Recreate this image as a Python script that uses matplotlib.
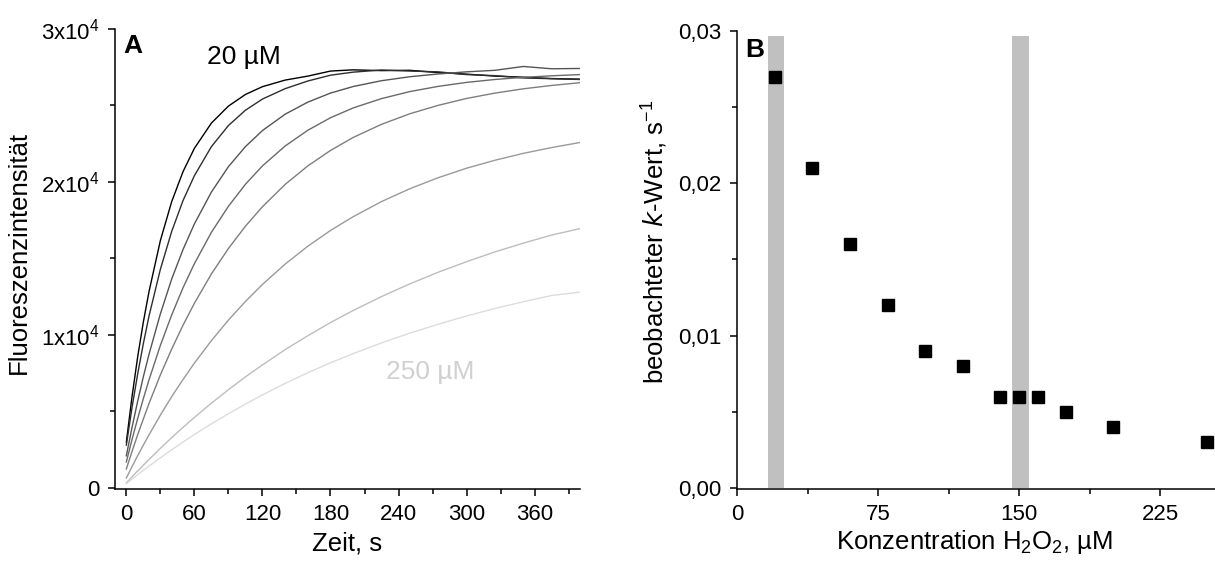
import matplotlib
matplotlib.use("Agg")
import matplotlib.pyplot as plt
import numpy as np

plt.rcParams['font.family'] = ['Liberation Sans', 'DejaVu Sans']
plt.rcParams['mathtext.default'] = 'regular'

# ---------------- Panel A data ----------------
time_s = [0, 5, 10, 15, 20, 30, 40, 50, 60, 75, 90, 105, 120, 140, 160, 180,
          200, 225, 250, 275, 300, 325, 350, 375, 400]

curve_20uM = [3000, 5960, 8570, 10850, 12840, 16170, 18720, 20680, 22200, 23850, 24960,
              25720, 26230, 26660, 26920, 27250, 27330, 27280, 27300, 27150, 27050,
              26920, 26850, 26760, 26720]
curve_40uM = [2800, 5260, 7450, 9440, 11240, 14290, 16770, 18790, 20410, 22310, 23690,
              24690, 25420, 26100, 26600, 26980, 27180, 27320, 27250, 27200, 27020,
              26950, 26800, 26750, 26700]
curve_60uM = [2100, 3950, 5670, 7270, 8740, 11380, 13660, 15590, 17260, 19340, 21000,
              22310, 23360, 24430, 25220, 25810, 26240, 26620, 26880, 27060, 27200,
              27300, 27550, 27400, 27420]
curve_80uM = [1700, 3160, 4540, 5840, 7070, 9320, 11310, 13090, 14660, 16710, 18410,
              19850, 21050, 22350, 23380, 24200, 24840, 25450, 25910, 26250, 26510,
              26700, 26840, 26940, 27020]
curve_100uM = [1240, 2380, 3480, 4510, 5520, 7390, 9080, 10640, 12070, 13990, 15650,
               17110, 18380, 19840, 21050, 22060, 22910, 23770, 24460, 25010, 25460,
               25810, 26090, 26310, 26490]
curve_150uM = [650, 1390, 2110, 2800, 3470, 4760, 5970, 7090, 8160, 9630, 10970,
               12190, 13300, 14630, 15800, 16830, 17730, 18720, 19560, 20280, 20900,
               21420, 21870, 22250, 22580]
curve_200uM = [330, 724, 1110, 1490, 1860, 2590, 3290, 3960, 4610, 5540, 6420,
               7260, 8040, 9040, 9950, 10810, 11600, 12510, 13340, 14100, 14790,
               15430, 16000, 16530, 16950]
curve_250uM = [280, 574, 864, 1150, 1430, 1970, 2490, 3000, 3490, 4190, 4850,
               5480, 6080, 6830, 7530, 8180, 8780, 9480, 10120, 10700, 11240,
               11730, 12170, 12580, 12800]

curves = [curve_20uM, curve_40uM, curve_60uM, curve_80uM, curve_100uM,
          curve_150uM, curve_200uM, curve_250uM]
curve_colors = ['#000000', '#2e2e2e', '#555555', '#6a6a6a', '#7e7e7e',
                '#9a9a9a', '#bdbdbd', '#dcdcdc']

a_yticks = [0, 10000, 20000, 30000]
a_yticklabels = ['0', '1x10$^{4}$', '2x10$^{4}$', '3x10$^{4}$']
a_xticks = [0, 60, 120, 180, 240, 300, 360]

# ---------------- Panel B data ----------------
conc_uM = [20, 40, 60, 80, 100, 120, 140, 150, 160, 175, 200, 250]
k_obs = [0.027, 0.021, 0.016, 0.012, 0.009, 0.008, 0.006, 0.006, 0.006, 0.005, 0.004, 0.003]
band_ranges = [(16.5, 25.0), (146.0, 155.0)]
band_top = 0.0297
b_yticks = [0.00, 0.01, 0.02, 0.03]
b_yticklabels = ['0,00', '0,01', '0,02', '0,03']
b_xticks = [0, 75, 150, 225]

W, H = 1215, 563
fig = plt.figure(figsize=(W / 100, H / 100), dpi=100)

tick_fs = 16
label_fs = 18.5
note_fs = 19
panel_fs = 19

def style_axes(ax):
    for s in ['top', 'right']:
        ax.spines[s].set_visible(False)
    for s in ['left', 'bottom']:
        ax.spines[s].set_linewidth(1.1)
    ax.tick_params(which='major', direction='out', length=5, width=1.1,
                   labelsize=tick_fs, pad=6)
    ax.tick_params(which='minor', direction='out', length=3.5, width=1.1)

# Panel A
axA = fig.add_axes([115 / W, (H - 489) / H, 465 / W, 460 / H])
for vals, col in zip(curves, curve_colors):
    axA.plot(time_s, vals, color=col, lw=1.0)
axA.set_xlim(-10, 400)
axA.set_ylim(-70, 30000)
axA.set_xticks(a_xticks)
axA.set_xticks([30, 90, 150, 210, 270, 330, 390], minor=True)
axA.set_yticks(a_yticks)
axA.set_yticklabels(a_yticklabels)
axA.set_yticks([5000, 15000, 25000], minor=True)
style_axes(axA)
axA.set_xlabel('Zeit, s', fontsize=label_fs)
axA.xaxis.set_label_coords(0.5, -0.093)
axA.set_ylabel('Fluoreszenzintensität', fontsize=label_fs)
axA.yaxis.set_label_coords(-0.18, 0.515)
axA.text(0.017, 0.99, 'A', transform=axA.transAxes, fontsize=panel_fs,
         fontweight='bold', va='top', ha='left')
axA.text(104, 28150, '20 µM', fontsize=note_fs, color='black', ha='center', va='center')
axA.text(268, 7580, '250 µM', fontsize=note_fs, color='#d0d0d0', ha='center', va='center')

# Panel B
axB = fig.add_axes([737 / W, (H - 489) / H, 478 / W, 458 / H])
for lo, hi in band_ranges:
    axB.fill_between([lo, hi], 0, band_top, color='#c0c0c0', lw=0, zorder=1)
axB.plot(conc_uM, k_obs, linestyle='none', marker='s', markersize=9.3,
         color='black', zorder=3, clip_on=False)
axB.set_xlim(0, 254)
axB.set_ylim(-0.00007, 0.03)
axB.set_xticks(b_xticks)
axB.set_xticks([37.5, 112.5, 187.5], minor=True)
axB.set_yticks(b_yticks)
axB.set_yticklabels(b_yticklabels)
axB.set_yticks([0.005, 0.015, 0.025], minor=True)
style_axes(axB)
axB.set_xlabel('Konzentration H$_2$O$_2$, µM', fontsize=label_fs)
axB.xaxis.set_label_coords(0.498, -0.085)
axB.set_ylabel('beobachteter $\\mathit{k}$-Wert, s$^{-1}$', fontsize=label_fs)
axB.yaxis.set_label_coords(-0.14, 0.54)
axB.text(0.018, 0.985, 'B', transform=axB.transAxes, fontsize=panel_fs,
         fontweight='bold', va='top', ha='left')

fig.savefig('out.png', dpi=100)
